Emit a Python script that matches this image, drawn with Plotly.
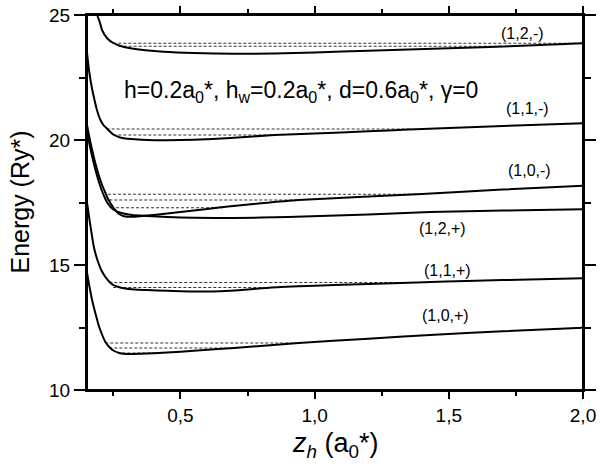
import plotly.graph_objects as go

# ---- data ----
x_12m = [0.18, 0.19, 0.2, 0.208, 0.227, 0.25, 0.28, 0.314, 0.37, 0.437, 0.55, 0.7, 0.85, 1.0, 1.2, 1.5, 1.75, 2.0]
E_12m = [25.4, 25.0, 24.7, 24.4, 24.07, 23.88, 23.75, 23.67, 23.59, 23.53, 23.48, 23.45, 23.46, 23.5, 23.57, 23.67, 23.76, 23.87]

x_11m = [0.152, 0.16, 0.17, 0.18, 0.189, 0.2, 0.213, 0.227, 0.25, 0.27, 0.289, 0.33, 0.376, 0.45, 0.55, 0.687, 0.85, 1.0, 1.2, 1.35, 1.5, 1.75, 2.0]
E_11m = [23.5, 22.75, 22.1, 21.6, 21.2, 20.85, 20.6, 20.45, 20.22, 20.12, 20.07, 20.03, 20.0, 19.99, 20.01, 20.08, 20.2, 20.26, 20.35, 20.42, 20.48, 20.58, 20.67]

x_10m = [0.152, 0.16, 0.17, 0.18, 0.19, 0.2, 0.21, 0.22, 0.23, 0.25, 0.27, 0.29, 0.32, 0.35, 0.4, 0.5, 0.6, 0.687, 0.8, 0.94, 1.2, 1.4, 1.7, 2.0]
E_10m = [20.6, 20.15, 19.65, 19.2, 18.8, 18.45, 18.15, 17.9, 17.65, 17.3, 17.05, 16.95, 16.93, 16.95, 17.0, 17.12, 17.24, 17.35, 17.47, 17.6, 17.74, 17.84, 18.02, 18.17]

x_12p = [0.152, 0.16, 0.17, 0.18, 0.19, 0.2, 0.21, 0.22, 0.23, 0.25, 0.28, 0.32, 0.376, 0.45, 0.55, 0.7, 0.9, 1.2, 1.43, 1.7, 2.0]
E_12p = [20.4, 19.9, 19.4, 18.95, 18.55, 18.2, 17.9, 17.65, 17.45, 17.22, 17.08, 17.0, 16.96, 16.92, 16.89, 16.88, 16.92, 17.02, 17.12, 17.18, 17.23]

x_11p = [0.152, 0.16, 0.17, 0.177, 0.185, 0.195, 0.205, 0.22, 0.235, 0.25, 0.27, 0.289, 0.33, 0.376, 0.45, 0.55, 0.65, 0.75, 0.84, 1.0, 1.2, 1.38, 1.6, 1.8, 2.0]
E_11p = [17.5, 16.9, 16.2, 15.75, 15.4, 15.07, 14.8, 14.53, 14.33, 14.2, 14.12, 14.07, 14.02, 14.0, 13.97, 13.94, 13.95, 14.02, 14.1, 14.17, 14.24, 14.3, 14.37, 14.42, 14.47]

x_10p = [0.152, 0.16, 0.17, 0.177, 0.185, 0.195, 0.205, 0.22, 0.235, 0.25, 0.276, 0.3, 0.35, 0.45, 0.55, 0.7, 0.94, 1.2, 1.43, 1.7, 2.0]
E_10p = [14.7, 14.2, 13.65, 13.33, 13.0, 12.6, 12.3, 11.93, 11.72, 11.58, 11.47, 11.44, 11.45, 11.5, 11.57, 11.68, 11.88, 12.05, 12.2, 12.35, 12.49]

curves = [(x_12m, E_12m), (x_11m, E_11m), (x_10m, E_10m), (x_12p, E_12p), (x_11p, E_11p), (x_10p, E_10p)]

# horizontal dashed levels: energy, start, end
dash_E  = [23.87, 23.75, 20.44, 20.2, 17.83, 17.6, 17.29, 14.3, 14.1, 11.88, 11.68, 11.48]
dash_x0 = [0.25, 0.27, 0.225, 0.25, 0.23, 0.235, 0.26, 0.235, 0.25, 0.22, 0.235, 0.265]
dash_x1 = [2.0, 1.7, 1.36, 0.85, 1.38, 0.94, 0.66, 1.38, 0.84, 0.94, 0.7, 0.42]

labels = ["(1,2,-)", "(1,1,-)", "(1,0,-)", "(1,2,+)", "(1,1,+)", "(1,0,+)"]
label_x = [1.775, 1.794, 1.799, 1.477, 1.495, 1.489]
label_E = [24.28, 21.27, 18.8, 16.47, 14.8, 13.0]

x_ticks = [0.5, 1.0, 1.5, 2.0]
y_ticks = [10, 15, 20, 25]

FONT = "Liberation Sans, Arial"

fig = go.Figure()

for E, a, b in zip(dash_E, dash_x0, dash_x1):
    fig.add_trace(go.Scatter(x=[a, b], y=[E, E], mode="lines",
                             line=dict(color="#333333", width=1.1, dash="3px,2px"),
                             hoverinfo="skip", showlegend=False))

for xs, ys in curves:
    fig.add_trace(go.Scatter(x=xs, y=ys, mode="lines",
                             line=dict(color="black", width=2, shape="spline", smoothing=0.6),
                             showlegend=False))

for t, lx, ly in zip(labels, label_x, label_E):
    fig.add_annotation(x=lx, y=ly, text=t, showarrow=False,
                       font=dict(family=FONT, size=16, color="black"))

fig.add_annotation(x=0.948, y=21.95, showarrow=False,
                   text="h=0.2a<sub>0</sub>*, h<sub>w</sub>=0.2a<sub>0</sub>*, d=0.6a<sub>0</sub>*, γ=0",
                   font=dict(family=FONT, size=23, color="black"))

# axis titles (placed as paper annotations)
fig.add_annotation(xref="paper", yref="paper", x=-0.137, y=0.5, textangle=-90,
                   text="Energy (Ry*)", showarrow=False, xanchor="center", yanchor="middle",
                   font=dict(family=FONT, size=25, color="black"))
fig.add_annotation(xref="paper", yref="paper", x=0.5, y=-0.147,
                   text="<i>z<sub>h</sub></i> (a<sub>0</sub>*)", showarrow=False,
                   xanchor="center", yanchor="middle",
                   font=dict(family=FONT, size=27, color="black"))

# frame
fig.add_shape(type="rect", xref="paper", yref="paper", x0=0, y0=0, x1=1, y1=1,
              line=dict(color="black", width=2), layer="above")

axis_common = dict(showline=True, linecolor="black", linewidth=2, mirror="ticks",
                   ticks="outside", tickcolor="black", tickwidth=1.5,
                   showgrid=False, zeroline=False, automargin=False,
                   ticklabeloverflow="allow")

fig.update_xaxes(range=[0.152, 2.0], tickvals=x_ticks, tickformat=".1f", ticklen=7,
                 minor=dict(dtick=0.25, tick0=0, ticks="outside", ticklen=4, tickcolor="black", tickwidth=1.5),
                 tickfont=dict(family=FONT, size=19, color="black"),
                 **axis_common)
fig.update_yaxes(range=[10, 25], tickvals=y_ticks, ticklen=11,
                 minor=dict(dtick=2.5, tick0=0, ticks="outside", ticklen=6, tickcolor="black", tickwidth=1.5),
                 tickfont=dict(family=FONT, size=19, color="black"),
                 **axis_common)

fig.update_layout(width=600, height=471, separators=", ",
                  margin=dict(l=87, r=17, t=15, b=81),
                  plot_bgcolor="white", paper_bgcolor="white")

# remove the default page margin so the 600x471 figure fills the window exactly
fig.write_html("out.html",
               config={"displayModeBar": False},
               post_script="document.body.style.margin='0px';document.body.style.overflow='hidden';")
